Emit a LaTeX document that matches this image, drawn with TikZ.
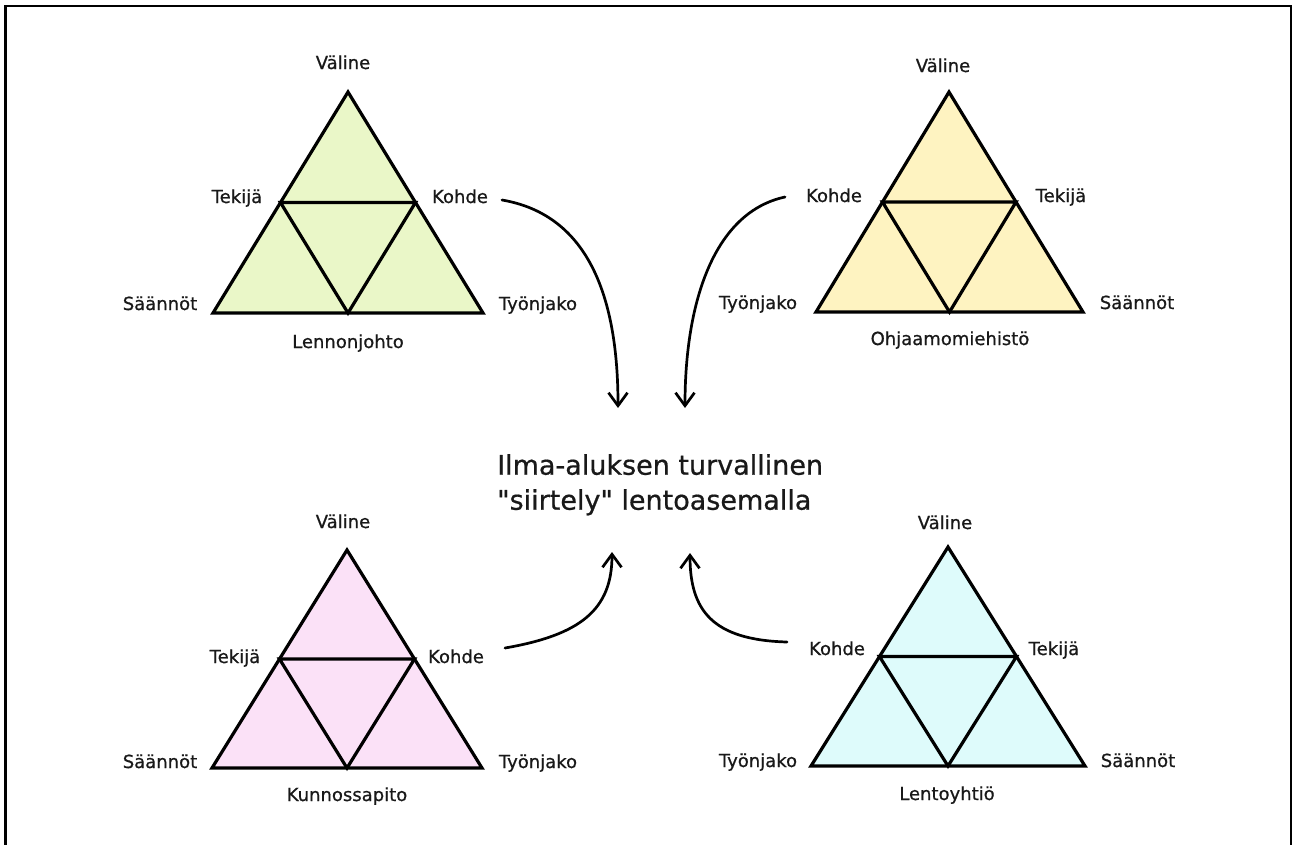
\documentclass[tikz,border=0pt]{standalone}
\usepackage{fontspec}
\setmainfont{DejaVu Sans}[FakeBold=0.8]
\newfontfamily\titlefont{DejaVu Sans}[FakeBold=0.7]
\usetikzlibrary{arrows.meta,calc}
\definecolor{trigreen}{RGB}{234,247,200}
\definecolor{triyellow}{RGB}{254,243,193}
\definecolor{tripink}{RGB}{251,225,247}
\definecolor{tricyan}{RGB}{222,251,251}
\tikzset{
  lbl/.style={font=\fontsize{18}{20}\selectfont, text=black!90, inner sep=0pt, anchor=base},
  tripath/.style={draw=black, line width=3.2pt, line join=miter},
  arr/.style={draw=black, line width=2.7pt, line cap=round,
    -{Straight Barb[length=13pt,width=19pt,line width=2.7pt]}},
  framepath/.style={draw=black, line width=2.5pt},
  title/.style={font=\titlefont\fontsize{27}{35}\selectfont, text=black!90, inner sep=0pt, align=left, anchor=north west}
}
\newcommand\mytri[5]{%
  \coordinate (#1A) at (#3);
  \coordinate (#1L) at (#4);
  \coordinate (#1R) at (#5);
  \coordinate (#1l) at ($(#1A)!0.5!(#1L)$);
  \coordinate (#1r) at ($(#1A)!0.5!(#1R)$);
  \coordinate (#1b) at ($(#1L)!0.5!(#1R)$);
  \filldraw[tripath, fill=#2] (#1A) -- (#1L) -- (#1R) -- cycle;
  \draw[tripath] (#1l) -- (#1r) -- (#1b) -- cycle;
}
\begin{document}
\begin{tikzpicture}[x=1pt,y=-1pt]
\useasboundingbox (0,0) rectangle (1293,844);
% frame
\draw[framepath] (5.5,846) -- (5.5,6) -- (1291,6) -- (1291,846);

% triangle 1 (green)
\mytri{g}{trigreen}{348,92}{213,313}{483,313}
\node[lbl] (gV) at (343,69) {Väline};
\node[lbl] (gT) at (237,203) {Tekijä};
\node[lbl] (gK) at (460,203) {Kohde};
\node[lbl] (gS) at (160,310) {Säännöt};
\node[lbl] (gW) at (538,310) {Työnjako};
\node[lbl] (gN) at (348,348) {Lennonjohto};

% triangle 2 (yellow)
\mytri{y}{triyellow}{949,92}{816,312}{1083,312}
\node[lbl] (yV) at (943,72) {Väline};
\node[lbl] (yK) at (834,202) {Kohde};
\node[lbl] (yT) at (1061,202) {Tekijä};
\node[lbl] (yW) at (758,309) {Työnjako};
\node[lbl] (yS) at (1137,309) {Säännöt};
\node[lbl] (yN) at (950,345) {Ohjaamomiehistö};

% triangle 3 (pink)
\mytri{p}{tripink}{347,550}{212,768}{482,768}
\node[lbl] (pV) at (343,528) {Väline};
\node[lbl] (pT) at (235,663) {Tekijä};
\node[lbl] (pK) at (456,663) {Kohde};
\node[lbl] (pS) at (160,768) {Säännöt};
\node[lbl] (pW) at (538,768) {Työnjako};
\node[lbl] (pN) at (347,801) {Kunnossapito};

% triangle 4 (cyan)
\mytri{c}{tricyan}{948,547}{811,766}{1085,766}
\node[lbl] (cV) at (945,529) {Väline};
\node[lbl] (cK) at (837,655) {Kohde};
\node[lbl] (cT) at (1054,655) {Tekijä};
\node[lbl] (cW) at (758,767) {Työnjako};
\node[lbl] (cS) at (1138,767) {Säännöt};
\node[lbl] (cN) at (947,800) {Lentoyhtiö};

% centre text
\node[title] (goal) at (497,454) {Ilma-aluksen turvallinen\\"siirtely" lentoasemalla};

% arrows
\coordinate (a1s) at (502,200);
\coordinate (a1e) at (618,408);
\coordinate (a2s) at (785,197);
\coordinate (a2e) at (685,408);
\coordinate (a3s) at (505,648);
\coordinate (a3e) at (612,552);
\coordinate (a4s) at (787,642);
\coordinate (a4e) at (690,553);
\draw[arr] (a1s) .. controls (590,215) and (618,300) .. (a1e);
\draw[arr] (a2s) .. controls (715,212) and (685,300) .. (a2e);
\draw[arr] (a3s) .. controls (580,635) and (612,610) .. (a3e);
\draw[arr] (a4s) .. controls (712,640) and (690,610) .. (a4e);
\end{tikzpicture}
\end{document}
